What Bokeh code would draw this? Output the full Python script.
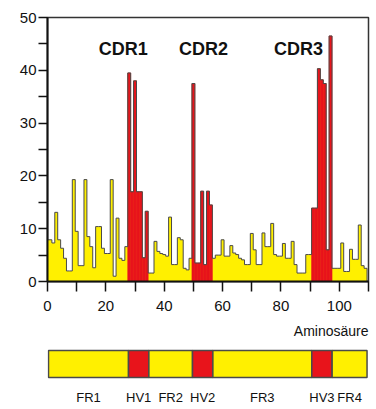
import numpy as np
from bokeh.plotting import figure
from bokeh.layouts import column
from bokeh.models import Range1d, FixedTicker, Title, ColumnDataSource
from bokeh.core.properties import value
from bokeh.embed import file_html
from bokeh.resources import INLINE

# ---------------- data ----------------
residue = list(range(110))
variability = [
    7.9, 7.9, 7.3, 13.1, 7.9, 6.3, 4.4, 2.0, 2.0, 19.3,      # 0-9
    9.5, 3.0, 3.0, 19.3, 8.5, 6.6, 2.6, 10.4, 10.4, 6.3,     # 10-19
    5.3, 5.3, 19.3, 1.0, 12.0, 4.4, 4.0, 6.6, 39.5, 17.0,    # 20-29
    38.0, 17.0, 17.0, 4.5, 13.3, 1.6, 1.6, 7.6, 5.7, 5.3,    # 30-39
    5.1, 4.8, 12.2, 3.2, 3.2, 8.3, 7.9, 2.5, 2.2, 4.4,       # 40-49
    37.5, 3.5, 3.5, 17.1, 3.2, 17.1, 14.5, 4.4, 5.0, 5.0,    # 50-59
    7.9, 4.8, 4.8, 6.8, 5.4, 5.1, 4.4, 4.1, 3.2, 3.2,        # 60-69
    9.1, 6.0, 3.2, 3.2, 9.2, 6.6, 6.6, 11.0, 5.1, 4.8,       # 70-79
    4.8, 7.2, 4.4, 4.4, 7.6, 3.2, 1.6, 1.6, 1.6, 5.1,        # 80-89
    5.1, 13.9, 13.9, 40.3, 38.2, 37.5, 6.0, 46.5, 2.5, 2.5,  # 90-99
    2.5, 7.3, 1.9, 1.9, 6.1, 4.2, 4.2, 10.7, 3.0, 2.5,       # 100-109
]
cdr_names = ["CDR1", "CDR2", "CDR3"]
cdr_first = [28, 50, 91]
cdr_last = [34, 56, 97]
region_names = ["FR1", "HV1", "FR2", "HV2", "FR3", "HV3", "FR4"]
y_ticks = [0, 10, 20, 30, 40, 50]
y_minor = [5, 15, 25, 35, 45]
x_ticks = [0, 20, 40, 60, 80, 100]
x_minor = [10, 30, 50, 70, 90, 110]
x_label = "Aminosäure"

# ---------------- style ----------------
YELLOW = "#FFF000"
RED = "#E8141B"
EDGE = "#4a4a4a"
FONT = value("Liberation Sans")

res = np.array(residue, dtype=float)
val = np.array(variability, dtype=float)
in_cdr = np.zeros(len(res), dtype=bool)
for a, b in zip(cdr_first, cdr_last):
    in_cdr |= (res >= a) & (res <= b)

# step profile (data space)
sx = np.column_stack([res - 0.5, res + 0.5]).ravel()
sy = np.repeat(val, 2)
px = np.concatenate([[sx[0]], sx, [sx[-1]]])
py = np.concatenate([[0.0], sy, [0.0]])

p = figure(width=376, height=345, x_range=Range1d(0, 110), y_range=Range1d(0, 50),
           output_backend="svg", toolbar_location=None,
           min_border_left=47, min_border_right=8, min_border_top=17, min_border_bottom=63)
p.background_fill_color = "white"
p.border_fill_color = "white"
p.grid.visible = False
p.outline_line_color = "#333333"
p.outline_line_width = 1.5

p.patch(px, py, fill_color=YELLOW, line_color=None)
red_src = ColumnDataSource(dict(left=res[in_cdr] - 0.5, right=res[in_cdr] + 0.5,
                                top=val[in_cdr], bottom=np.zeros(in_cdr.sum())))
p.quad(left="left", right="right", top="top", bottom="bottom", source=red_src,
       fill_color=RED, line_color=RED, line_width=0.6)
p.line(px, py, line_color=EDGE, line_width=1.0, line_join="miter")

# CDR labels
cdr_label_x = [26, 53.5, 86]
p.text(x=cdr_label_x, y=[44] * 3, text=cdr_names, text_font=FONT, text_font_size="18px",
       text_font_style="bold", text_align="center", text_baseline="middle", text_color="#111111")

# axes
for ax in (p.xaxis, p.yaxis):
    ax.axis_line_width = 2
    ax.axis_line_color = "#111111"
    ax.major_tick_line_color = "#111111"
    ax.minor_tick_line_color = "#111111"
    ax.major_tick_line_width = 1.5
    ax.minor_tick_line_width = 1.5
    ax.major_tick_in = 0
    ax.minor_tick_in = 0
    ax.major_label_text_font = "Liberation Sans"
    ax.major_label_text_font_size = "15px"
    ax.major_label_text_color = "#111111"

p.xaxis.ticker = FixedTicker(ticks=x_ticks, minor_ticks=x_minor)
p.xaxis.major_tick_out = 10
p.xaxis.minor_tick_out = 10
p.xaxis.major_label_standoff = 9

p.yaxis.ticker = FixedTicker(ticks=y_ticks, minor_ticks=y_minor)
p.yaxis.major_tick_out = 9
p.yaxis.minor_tick_out = 9
p.yaxis.major_label_standoff = 2

p.add_layout(Title(text=x_label, align="right", text_font_size="14px", text_font_style="normal",
                   text_font="Liberation Sans", text_color="#111111", standoff=14), "below")

# ---------------- region strip ----------------
edges = [0.0]
for a, b in zip(cdr_first, cdr_last):
    edges += [a - 0.5, b + 0.5]
edges.append(res[-1] + 0.5)
lefts = edges[:-1]
rights = edges[1:]
strip_colors = [YELLOW if i % 2 == 0 else RED for i in range(len(lefts))]
mids = [(l + r) / 2 for l, r in zip(lefts, rights)]

s = figure(width=376, height=64, x_range=Range1d(-0.35, 110), y_range=Range1d(-1.185, 1.074),
           output_backend="svg", toolbar_location=None,
           x_axis_location=None, y_axis_location=None,
           min_border_left=46, min_border_right=8, min_border_top=3, min_border_bottom=0)
s.outline_line_color = None
s.grid.visible = False
s.background_fill_color = "white"
s.border_fill_color = "white"
s.quad(left=lefts, right=rights, top=[1] * len(lefts), bottom=[0] * len(lefts),
       fill_color=strip_colors, line_color=EDGE, line_width=1.5)
s.text(x=mids, y=[-0.74] * len(mids), text=region_names, text_font=FONT, text_font_size="13px",
       text_align="center", text_baseline="middle", text_color="#111111")

layout = column(p, s, spacing=0)
open("out.html", "w").write(file_html(layout, INLINE))
